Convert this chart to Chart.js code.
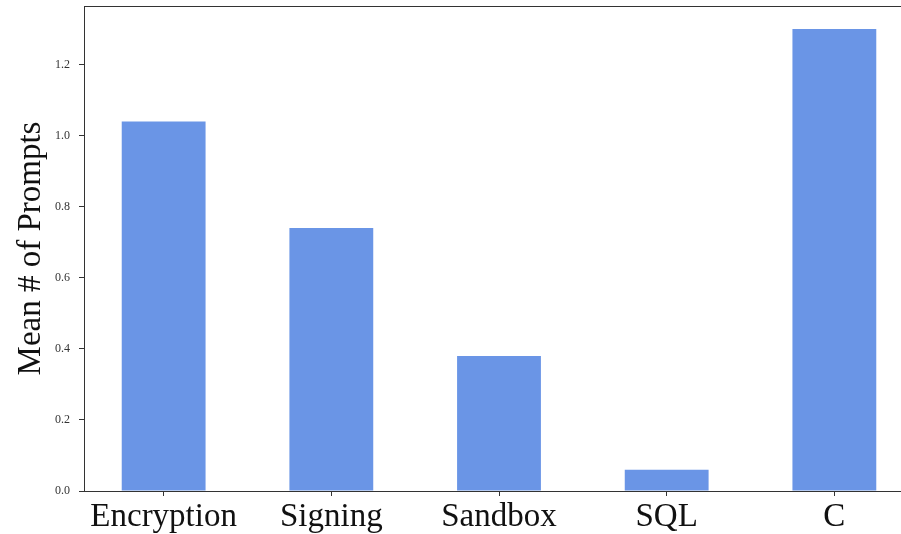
<!DOCTYPE html>
<html>
<head>
<meta charset="utf-8">
<script src="https://cdn.jsdelivr.net/npm/chart.js@4"></script>
<style>
html,body{margin:0;padding:0;background:#fff;overflow:hidden;width:901px;height:534px;}
#wrap{position:absolute;left:0;top:0;width:920px;height:534px;}
</style>
</head>
<body>
<div id="wrap"><canvas id="c"></canvas></div>
<script>
const categories = ["Encryption", "Signing", "Sandbox", "SQL", "C"];
const meanPrompts = [1.04, 0.74, 0.38, 0.06, 1.30];
const yTicks = [0.0, 0.2, 0.4, 0.6, 0.8, 1.0, 1.2];
const yAxisTitle = "Mean # of Prompts";

const serif = "'Liberation Serif', 'DejaVu Serif', serif";

const framePlugin = {
  id: 'frame',
  afterDraw(chart) {
    const {ctx, chartArea: a} = chart;
    ctx.save();
    ctx.strokeStyle = '#333';
    ctx.lineWidth = 1;
    ctx.strokeRect(Math.round(a.left) + 0.5, Math.round(a.top) + 0.5, Math.round(a.right - a.left), Math.round(a.bottom - a.top));
    ctx.restore();
  }
};

new Chart(document.getElementById('c'), {
  type: 'bar',
  data: {
    datasets: [{
      data: categories.map((c, i) => ({x: i, y: meanPrompts[i]})),
      backgroundColor: '#6a95e6',
      borderWidth: 0,
      categoryPercentage: 1.0,
      barPercentage: 0.5
    }]
  },
  options: {
    responsive: true,
    maintainAspectRatio: false,
    animation: false,
    devicePixelRatio: 1,
    layout: {padding: {top: 6, right: 6, left: 0, bottom: 0}},
    plugins: {legend: {display: false}, tooltip: {enabled: false}},
    scales: {
      x: {
        type: 'linear',
        offset: false,
        min: -0.475,
        max: 4.475,
        afterBuildTicks(s) { s.ticks = categories.map((c, i) => ({value: i})); },
        afterFit(s) { s.height = 43; s.paddingLeft = 0; s.paddingRight = 0; },
        grid: {offset: false, drawOnChartArea: false, drawTicks: true, tickLength: 5, color: '#333'},
        border: {display: true, color: '#333', width: 1},
        ticks: {
          autoSkip: false, maxRotation: 0,
          padding: 2,
          color: '#111',
          font: {family: serif, size: 33},
          callback: (v) => categories[v]
        }
      },
      y: {
        min: 0,
        max: 1.365,
        afterBuildTicks(s) { s.ticks = yTicks.map(v => ({value: v})); },
        afterFit(s) { s.width = 84; s.paddingTop = 0; s.paddingBottom = 0; },
        grid: {drawOnChartArea: false, drawTicks: true, tickLength: 5, color: '#333'},
        border: {display: true, color: '#333', width: 1},
        ticks: {
          padding: 9,
          color: '#333',
          font: {family: serif, size: 12},
          callback: (v) => Number(v).toFixed(1)
        },
        title: {
          display: true,
          text: yAxisTitle,
          color: '#111',
          font: {family: serif, size: 33},
          padding: {top: 12, bottom: 0}
        }
      }
    }
  },
  plugins: [framePlugin]
});
</script>
</body>
</html>
